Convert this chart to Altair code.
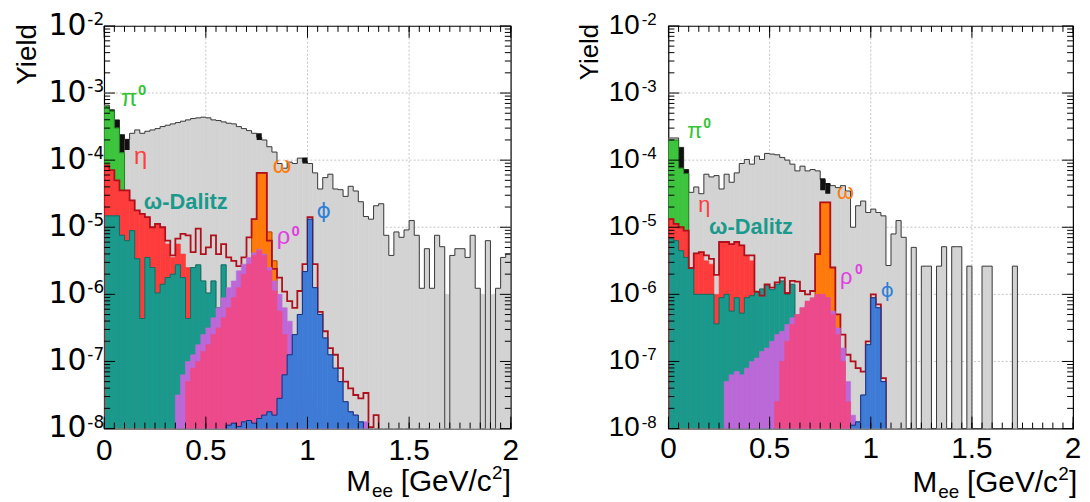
import altair as alt
import pandas as pd

# ---------------------------------------------------------------------------
# Data: log10(yield) per 0.025 GeV/c^2 bin (None = empty)
# ---------------------------------------------------------------------------
BIN = 0.025

# ----- left panel -----
L_total = [-3.18, -3.25, -3.40, -3.62, -3.69, -3.60, -3.55, -3.60, -3.57, -3.55,
           -3.53, -3.50, -3.48, -3.46, -3.44, -3.42, -3.40, -3.38, -3.37, -3.36,
           -3.37, -3.40, -3.41, -3.43, -3.45, -3.46, -3.50, -3.53, -3.56, -3.60,
           -3.66, -3.70, -3.80, -3.88, -4.05, -4.12, -4.03, -4.05, -3.97, -4.02,
           -4.05, -4.19, -4.43, -4.26, -4.21, -4.43, -4.44, -4.54, -4.39, -4.46,
           -4.62, -4.84, -4.88, -4.68, -4.65, -5.12, -5.42, -5.07, -5.15, -5.04,
           -4.90, -5.12, -5.91, -5.32, -5.91, -5.12, -5.29, None, -5.42, -5.32,
           -5.32, -5.45, -5.12, -5.91, None, -5.20, None, -5.91, -5.45, -5.40]
L_floor = [1.6, 2.0, -6.0]          # x from, x to, log10 level of the grey floor
L_black_bin = [1, 2, 3, 4, 30, 39]
L_black_lo = [-3.30, -3.52, -3.89, -3.85, -3.70, -4.05]
L_black_hi = [-3.25, -3.40, -3.62, -3.69, -3.60, -3.96]
L_pi0_start, L_pi0 = 0, [-3.20, -3.27, -3.52, -3.89]
L_eta_start, L_eta = 0, [-4.08, -4.15, -4.30, -4.45, -4.45, -4.60, -4.75, -4.80, -4.85, -5.00,
                         -4.95, -5.00, -5.25, -5.45, -5.25, -5.40, -5.60, -5.80, -5.60, -5.90]
L_omd_start, L_omd = 0, [-4.83, -4.83, -4.83, -5.12, -5.20, -5.05, -5.47, -6.36, -5.45, -5.60,
                         -5.98, -5.85, -5.75, -5.70, -5.56, -5.75, -6.36, -5.60, -5.56, -5.80,
                         -5.98, -5.80, -6.20, -5.56, -6.20, -7.00]
L_omega_start, L_omega = 28, [-5.60, -4.88, -4.19, -4.19, -5.07, -5.50]
L_sum_start, L_sum = 0, [-4.08, -4.15, -4.30, -4.45, -4.45, -4.60, -4.75, -4.80, -4.85, -5.00,
                         -4.95, -5.00, -5.20, -5.42, -5.17, -5.10, -5.12, -5.37, -5.02, -5.40,
                         -5.30, -5.12, -5.40, -5.25, -5.45, -5.50, -5.58, -5.45, -5.15, -4.88,
                         -4.19, -4.19, -5.20, -5.62, -5.75, -5.96, -6.10, -6.20, -5.95, -5.55,
                         -4.85, -5.55, -6.26, -6.55, -6.80, -6.90, -7.10, -7.30, -7.40, -7.50,
                         -7.55, -7.47, -7.98, -7.80]
L_rhob_start, L_rhob = 14, [-7.50, -7.20, -7.00, -6.90, -6.75, -6.60, -6.50, -6.35, -6.20, -6.05,
                            -5.90, -5.80, -5.65, -5.55, -5.45, -5.38, -5.33, -5.40, -5.60, -5.80,
                            -6.00, -6.20, -6.40, -6.70, -7.00, -7.30, -7.50, -7.70, -7.80, -7.80,
                            -7.90, -7.90, -7.85, -7.80, -7.75, -7.80, -7.95, -7.90]
L_rho_start, L_rho = 16, [-7.30, -7.10, -7.00, -6.85, -6.75, -6.60, -6.50, -6.35, -6.20, -6.05,
                          -5.90, -5.70, -5.55, -5.42, -5.35, -5.42, -5.65, -5.95, -6.25, -6.60,
                          -6.95, -7.30, -7.60, -7.90]
L_phi_start, L_phi = 24, [-7.95, -7.92, -7.97, -7.90, -7.88, -7.92, -7.85, -7.80, -7.75, -7.80,
                          -7.55, -7.20, -6.90, -6.60, -6.30, -5.66, -4.88, -5.90, -6.30, -6.65,
                          -6.90, -7.10, -7.30, -7.60, -7.75, -7.80, -7.90, -8.10]

# ----- right panel -----
R_total = [-3.67, -3.67, -3.81, -4.14, -4.48, -4.40, -4.50, -4.21, -4.25, -4.23,
           -4.43, -4.21, -4.33, -4.19, -4.05, -3.99, -4.06, -3.94, -3.99, -3.90,
           -3.91, -3.92, -3.96, -4.00, -4.06, -4.16, -4.09, -4.16, -4.14, -4.16,
           -4.29, -4.36, -4.38, -4.41, -4.38, -4.46, -5.00, -4.68, -4.61, -4.78,
           -4.73, -4.78, -4.83, -5.57, -5.10, -4.90, -5.15, None, -5.30, None,
           -5.58, -5.58, None, -5.58, -5.29, None, -5.29, -5.29, None, -5.58,
           None, None, -5.58, -5.58, None, None, None, None, -5.58, None,
           None, None, None, None, None, None, None, None, None, None]
R_floor = None
R_black_bin = [2, 3, 30, 31]
R_black_lo = [-4.12, -4.22, -4.45, -4.50]
R_black_hi = [-3.81, -4.14, -4.27, -4.34]
R_pi0_start, R_pi0 = 0, [-3.70, -3.70, -4.12, -4.20]
R_eta_start, R_eta = 0, [-4.88, -4.95, -5.00, -5.05, -5.61, -5.39, -5.37, -5.50, -5.55, -6.00,
                         -5.22, -5.22, -5.25, -5.22, -5.27, -5.42, -5.50, -6.10]
R_omd_start, R_omd = 0, [-5.17, -5.20, -5.35, -5.45, -5.60, -6.00, -6.00, -6.00, -6.00, -6.44,
                         -6.05, -6.00, -6.25, -6.05, -6.28, -6.05, -6.02, -5.97, -5.92, -5.87,
                         -5.93, -5.85, -5.80, -6.00, -5.85]
R_omega_start, R_omega = 28, [-6.20, -5.40, -4.63, -4.63, -5.60, -6.30]
R_sum_start, R_sum = 0, [-4.88, -4.95, -5.00, -5.05, -5.61, -5.39, -5.37, -5.42, -5.47, -5.71,
                         -5.22, -5.22, -5.25, -5.22, -5.27, -5.42, -5.42, -5.96, -6.02, -5.85,
                         -5.90, -5.82, -5.75, -5.98, -5.80, -5.81, -5.95, -6.00, -5.95, -5.40,
                         -4.63, -4.63, -5.60, -6.30, -6.60, -6.90, -7.00, -7.10, -7.15, -6.70,
                         -6.00, -6.15, -7.25]
R_rhob_start, R_rhob = 11, [-7.30, -7.20, -7.15, -7.20, -7.10, -7.00, -6.95, -6.85, -6.80, -6.70,
                            -6.60, -6.55, -6.45, -6.35, -6.30, -6.20, -6.15, -6.10, -6.05, -6.00,
                            -6.05, -6.25, -6.50, -6.80, -7.30, -7.80]
R_rho_start, R_rho = 21, [-7.60, -7.00, -6.70, -6.45, -6.30, -6.20, -6.10, -6.05, -6.00, -6.00,
                          -6.05, -6.30, -6.60, -7.00, -7.60]
R_phi_start, R_phi = 36, [-7.95, -7.90, -7.50, -6.75, -6.05, -6.20, -7.30]

# axis ticks / labels
X_MAJOR = [0, 0.5, 1.0, 1.5, 2.0]
X_LABELS = ["0", "0.5", "1", "1.5", "2"]
X_MINOR = [i * 0.05 for i in range(41)]
Y_DECADES = [-8, -7, -6, -5, -4, -3, -2]
X_GRID = [0.5, 1.0, 1.5]
Y_GRID = [-7, -6, -5, -4, -3]

# colours
C_GRAY, C_GRAY_LINE = "#d3d3d3", "#3a3a3a"
C_GREEN, C_GREEN_LINE = "#3cc43c", "#1d6e1d"
C_RED, C_SUM = "#ff3c3c", "#b0101c"
C_TEAL, C_TEAL_LINE = "#1a9a8c", "#0e6158"
C_ORANGE, C_ORANGE_LINE = "#ff7a0a", "#b04a00"
C_VIOLET = "#bd68d8"
C_PINK = "#ec4a8a"
C_PHI, C_PHI_LINE = "#3d7bd6", "#1b2c78"
C_GRID = "#c4c4c4"
FONT = "Liberation Sans"
FLOOR = -9.0
ONE = pd.DataFrame({"a": [0]})


def steps(start, logs):
    xs, ys = [start * BIN], [10 ** FLOOR]
    for i, v in enumerate(logs):
        xs.append((start + i) * BIN)
        ys.append(10 ** (FLOOR if v is None else v))
    end = (start + len(logs)) * BIN
    xs += [end, end]
    ys += [ys[-1], 10 ** FLOOR]
    return pd.DataFrame({"x": xs, "y": ys, "o": list(range(len(xs)))})


def bins(start, logs):
    rows = [((start + i) * BIN, (start + i + 1) * BIN, 10 ** v)
            for i, v in enumerate(logs) if v is not None]
    return pd.DataFrame({"x": [r[0] for r in rows], "x2": [r[1] for r in rows],
                         "y": [r[2] for r in rows], "y2": [10 ** FLOOR] * len(rows)})


def panel(P):
    W, H = P["W"], P["H"]
    xs = alt.Scale(domain=[0, 2], nice=False, zero=False)
    ys = alt.Scale(type="log", domain=[1e-8, 1e-2], nice=False)
    X = lambda f: alt.X(f, scale=xs, axis=None)
    Y = lambda f: alt.Y(f, scale=ys, axis=None)
    L = []

    def hist(start, logs, fill=None, stroke=None, sw=1.0):
        if fill:
            L.append(alt.Chart(bins(start, logs))
                     .mark_rect(color=fill, stroke=fill, strokeWidth=0.6, clip=True)
                     .encode(x=X("x:Q"), x2="x2:Q", y=Y("y:Q"), y2="y2:Q"))
        if stroke:
            L.append(alt.Chart(steps(start, logs))
                     .mark_line(interpolate="step-after", color=stroke, strokeWidth=sw, clip=True)
                     .encode(x=X("x:Q"), y=Y("y:Q"), order=alt.Order("o:Q")))

    def txt(s, px, py, size, color="black", align="left", baseline="alphabetic",
            weight="normal", angle=0, font=FONT):
        L.append(alt.Chart(ONE).mark_text(text=s, align=align, baseline=baseline, fontSize=size,
                                          font=font, fontWeight=weight, color=color, angle=angle)
                 .encode(x=alt.value(px), y=alt.value(py)))

    # grid
    L.append(alt.Chart(pd.DataFrame({"v": X_GRID})).mark_rule(color=C_GRID, strokeDash=[2, 2])
             .encode(x=X("v:Q"), y=alt.value(0), y2=alt.value(H)))
    L.append(alt.Chart(pd.DataFrame({"v": [10.0 ** k for k in Y_GRID]})).mark_rule(color=C_GRID, strokeDash=[2, 2])
             .encode(y=Y("v:Q"), x=alt.value(0), x2=alt.value(W)))

    # total (grey) histogram
    hist(0, P["total"], fill=C_GRAY)
    if P["floor"]:
        f0, f1, lv = P["floor"]
        L.append(alt.Chart(pd.DataFrame({"x": [f0], "x2": [f1], "y": [10 ** lv], "y2": [10 ** FLOOR]}))
                 .mark_rect(color=C_GRAY, clip=True)
                 .encode(x=X("x:Q"), x2="x2:Q", y=Y("y:Q"), y2="y2:Q"))
    hist(0, P["total"], stroke=C_GRAY_LINE, sw=1.0)
    # black bits
    bdf = pd.DataFrame({"x": [b * BIN for b in P["black_bin"]], "x2": [(b + 1) * BIN for b in P["black_bin"]],
                        "y": [10 ** v for v in P["black_hi"]], "y2": [10 ** v for v in P["black_lo"]]})
    L.append(alt.Chart(bdf).mark_rect(color="#111111", clip=True)
             .encode(x=X("x:Q"), x2="x2:Q", y=Y("y:Q"), y2="y2:Q"))
    hist(*P["pi0"], fill=C_GREEN, stroke=C_GREEN_LINE, sw=0.8)
    hist(*P["eta"], fill=C_RED)
    hist(*P["omd"], fill=C_TEAL, stroke=C_TEAL_LINE, sw=0.8)
    hist(*P["omega"], fill=C_ORANGE, stroke=C_ORANGE_LINE, sw=1.0)
    hist(*P["sum"], stroke=C_SUM, sw=1.8)
    hist(*P["rhob"], fill=C_VIOLET)
    hist(*P["rho"], fill=C_PINK)
    hist(*P["phi"], fill=C_PHI, stroke=C_PHI_LINE, sw=1.0)

    # ticks (inside the frame, ROOT style)
    ymaj = pd.DataFrame({"v": [10.0 ** k for k in Y_DECADES]})
    ymin = pd.DataFrame({"v": [m * 10.0 ** k for k in Y_DECADES[:-1] for m in range(2, 10)]})
    for df, ln in ((ymaj, 11), (ymin, 6)):
        L.append(alt.Chart(df).mark_rule(color="black").encode(y=Y("v:Q"), x=alt.value(0), x2=alt.value(ln)))
        L.append(alt.Chart(df).mark_rule(color="black").encode(y=Y("v:Q"), x=alt.value(W - ln), x2=alt.value(W)))
    xmaj = pd.DataFrame({"v": X_MAJOR})
    xmin = pd.DataFrame({"v": X_MINOR})
    for df, ln in ((xmaj, 12), (xmin, 6)):
        L.append(alt.Chart(df).mark_rule(color="black").encode(x=X("v:Q"), y=alt.value(H - ln), y2=alt.value(H)))
        L.append(alt.Chart(df).mark_rule(color="black").encode(x=X("v:Q"), y=alt.value(0), y2=alt.value(ln)))

    # tick labels
    L.append(alt.Chart(pd.DataFrame({"v": X_MAJOR, "t": X_LABELS}))
             .mark_text(align="center", baseline="alphabetic", fontSize=30, font=FONT)
             .encode(x=X("v:Q"), y=alt.value(P["xlab_y"]), text="t:N"))
    ydf = pd.DataFrame({"v": [10.0 ** k for k in Y_DECADES], "e": [str(k) for k in Y_DECADES]})
    L.append(alt.Chart(ydf).mark_text(text="10", align="right", baseline="middle", fontSize=P["ylab_fs"],
                                      font=P["ylab_font"])
             .encode(y=Y("v:Q"), x=alt.value(P["ylab_x"])))
    L.append(alt.Chart(ydf).mark_text(align="left", baseline="alphabetic", fontSize=P["yexp_fs"],
                                      font=P["ylab_font"], dy=-1)
             .encode(y=Y("v:Q"), x=alt.value(P["yexp_x"]), text="e:N"))

    # axis titles
    txt("Yield", P["yt_x"], -2, P["yt_fs"], align="right", baseline="top", angle=270)
    tx, ty = P["xt_x"], P["xt_y"]
    txt("M", tx, ty, 30)
    txt("ee", tx + 26, ty + 6, 19)
    txt("[GeV/c", tx + 55, ty, 30)
    txt("2", tx + 147, ty - 12, 19)
    txt("]", tx + 158, ty, 30)

    # species labels
    for s, px, py, fs, col, w, fnt in P["labels"]:
        txt(s, px, py, fs, col, weight=w, font=fnt)

    if P["anchor"]:
        L.append(alt.Chart(ONE).mark_rule(color="white", strokeWidth=1)
                 .encode(x=alt.value(-95), x2=alt.value(-94), y=alt.value(-14), y2=alt.value(-14)))
    return alt.layer(*L).properties(width=W, height=H)


DJ = "DejaVu Sans"
LEFT = dict(W=410, H=406, total=L_total, floor=L_floor, black_bin=L_black_bin, black_lo=L_black_lo,
            black_hi=L_black_hi, pi0=(L_pi0_start, L_pi0), eta=(L_eta_start, L_eta), omd=(L_omd_start, L_omd),
            omega=(L_omega_start, L_omega), sum=(L_sum_start, L_sum), rhob=(L_rhob_start, L_rhob),
            rho=(L_rho_start, L_rho), phi=(L_phi_start, L_phi),
            xlab_y=438, ylab_fs=30, ylab_font=DJ, ylab_x=-18, yexp_fs=17, yexp_x=-17,
            yt_x=-91, yt_fs=28, xt_x=244, xt_y=469, anchor=True,
            labels=[("π", 17, 81, 24, "#33c433", "normal", FONT), ("0", 34, 70, 15, "#33c433", "bold", FONT),
                    ("η", 30, 139, 24, "#ff3c3c", "normal", FONT),
                    ("ω-Dalitz", 40, 185, 22, "#1a9a8c", "bold", FONT),
                    ("ω", 170, 148, 24, "#ff7a0a", "normal", FONT),
                    ("ρ", 174, 220, 24, "#e040e0", "normal", FONT), ("0", 189, 212, 15, "#e040e0", "bold", FONT),
                    ("ϕ", 214, 194, 22, "#2f7fd6", "normal", DJ)])

RIGHT = dict(W=408, H=406, total=R_total, floor=R_floor, black_bin=R_black_bin, black_lo=R_black_lo,
             black_hi=R_black_hi, pi0=(R_pi0_start, R_pi0), eta=(R_eta_start, R_eta), omd=(R_omd_start, R_omd),
             omega=(R_omega_start, R_omega), sum=(R_sum_start, R_sum), rhob=(R_rhob_start, R_rhob),
             rho=(R_rho_start, R_rho), phi=(R_phi_start, R_phi),
             xlab_y=436, ylab_fs=28, ylab_font=FONT, ylab_x=-29, yexp_fs=17, yexp_x=-27,
             yt_x=-92, yt_fs=26, xt_x=246, xt_y=470, anchor=False,
             labels=[("π", 19, 113, 22, "#33c433", "normal", FONT), ("0", 35, 103, 14, "#33c433", "bold", FONT),
                     ("η", 30, 188, 22, "#ff3c3c", "normal", FONT),
                     ("ω-Dalitz", 41, 210, 22, "#1a9a8c", "bold", FONT),
                     ("ω", 170, 175, 22, "#ff7a0a", "normal", FONT),
                     ("ρ", 173, 260, 22, "#e040e0", "normal", FONT), ("0", 188, 250, 14, "#e040e0", "bold", FONT),
                     ("ϕ", 214, 273, 20, "#2f7fd6", "normal", DJ)])

chart = alt.hconcat(panel(LEFT), panel(RIGHT), spacing=159, bounds="flush").properties(
    padding={"left": 0, "top": 0, "right": 0, "bottom": 0}
).configure_view(stroke="black", strokeWidth=1.2)

chart.save("out.html", embed_options={"renderer": "svg", "actions": False})
